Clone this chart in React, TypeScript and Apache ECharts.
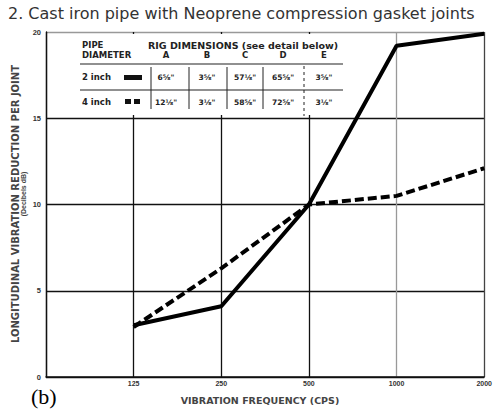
import React, { useEffect, useRef } from "react";
import * as echarts from "echarts";

const frequencies = ["", "125", "250", "500", "1000", "2000"];
const pipe2inch = [null, 3.0, 4.1, 10, 19.2, 19.9];
const pipe4inch = [null, 2.9, 6.3, 10, 10.5, 12.1];

const titleText = "2. Cast iron pipe with Neoprene compression gasket joints";
const yName1 = "LONGITUDINAL VIBRATION REDUCTION PER JOINT";
const yName2 = "(Decibels dB)";
const xName = "VIBRATION FREQUENCY (CPS)";

const tableCols = ["A", "B", "C", "D", "E"];
const tableRowNames = ["2 inch", "4 inch"];
const row2inch = ["6\u215D\"", "3\u215D\"", "57\u215B\"", "65\u215D\"", "3\u215D\""];
const row4inch = ["12\u215B\"", "3\u215B\"", "58\u215D\"", "72\u215D\"", "3\u215B\""];

export default function App() {
  const ref = useRef<HTMLDivElement>(null);
  useEffect(() => {
    if (!ref.current) return;
    const chart = echarts.init(ref.current, null, { renderer: "svg" });
    const F = "'Liberation Sans', Arial, sans-serif";
    const D = "'DejaVu Sans', sans-serif";
    const txt = (text: string, x: number, y: number, font: string, align = "left", fill = "#222", extra: any = {}) => ({
      type: "text",
      x,
      y,
      z: 3,
      ...extra,
      style: {
        text,
        font,
        fill,
        textAlign: align,
        align,
        textVerticalAlign: "middle",
        verticalAlign: "middle",
      },
    });
    const tf = `bold 8.5px ${D}`;
    const vf = `bold 7.5px ${D}`;
    const colX = [166, 207, 245, 283, 324];
    const sepX = [151, 189, 227, 263];
    const graphics: any[] = [
      // table background
      { type: "rect", z: 1, shape: { x: 48, y: 34, width: 298, height: 81 }, style: { fill: "#fff" } },
      txt("PIPE", 82, 45, tf),
      txt("DIAMETER", 82, 55, tf),
      txt("RIG DIMENSIONS (see detail below)", 148, 45, `bold 9.5px ${D}`),
      ...tableCols.map((c, i) => txt(c, colX[i], 55, tf, "center")),
      { type: "line", z: 3, shape: { x1: 80, y1: 64, x2: 343, y2: 64 }, style: { stroke: "#222", lineWidth: 1.2 } },
      { type: "line", z: 3, shape: { x1: 80, y1: 90, x2: 343, y2: 90 }, style: { stroke: "#222", lineWidth: 1.2 } },
      ...sepX.map((x) => ({ type: "line", z: 3, shape: { x1: x, y1: 67, x2: x, y2: 109 }, style: { stroke: "#222", lineWidth: 1 } })),
      { type: "line", z: 3, shape: { x1: 304, y1: 66, x2: 304, y2: 116 }, style: { stroke: "#222", lineWidth: 1, lineDash: [3, 3] } },
      txt(tableRowNames[0], 82, 77, tf),
      txt(tableRowNames[1], 82, 102, tf),
      { type: "rect", z: 3, shape: { x: 124, y: 75, width: 18, height: 5 }, style: { fill: "#111" } },
      { type: "rect", z: 3, shape: { x: 125, y: 99, width: 6, height: 5 }, style: { fill: "#111" } },
      { type: "rect", z: 3, shape: { x: 134, y: 99, width: 6, height: 5 }, style: { fill: "#111" } },
      ...row2inch.map((v, i) => txt(v, colX[i], 77, vf, "center")),
      ...row4inch.map((v, i) => txt(v, colX[i], 102, vf, "center")),
      // title
      txt(titleText, 8, 13, `16px ${D}`, "left", "#333"),
      // y axis name
      txt(yName1, 15, 204, `bold 10px ${D}`, "center", "#444", { rotation: Math.PI / 2 }),
      txt(yName2, 23, 194, `bold 7px ${F}`, "center", "#444", { rotation: Math.PI / 2 }),
      // x axis name
      txt(xName, 260, 400, `bold 9.5px ${D}`, "center", "#444"),
      // (b)
      txt("(b)", 31, 396, `22px 'Liberation Serif', 'Times New Roman', serif`, "left", "#000"),
    ];

    chart.setOption({
      animation: false,
      backgroundColor: "#fff",
      grid: { left: 46, right: 8, top: 32, bottom: 33, containLabel: false },
      xAxis: {
        type: "category",
        data: frequencies,
        boundaryGap: false,
        axisLine: { lineStyle: { color: "#111", width: 1.5 } },
        axisTick: { show: false },
        axisLabel: { interval: 0, fontSize: 7, fontWeight: "bold", color: "#333", margin: 3, fontFamily: F },
        splitLine: { show: true, lineStyle: { color: ["#111", "#111", "#111", "#111", "#999", "#444"], width: 1.3 } },
      },
      yAxis: {
        type: "value",
        min: 0,
        max: 20,
        interval: 5,
        axisLine: { show: true, lineStyle: { color: "#111", width: 1.3 } },
        axisTick: { show: false },
        axisLabel: { fontSize: 7.5, fontWeight: "bold", color: "#333", margin: 5, fontFamily: F },
        splitLine: { show: true, lineStyle: { color: ["#111", "#111", "#111", "#111", "#999"], width: 1.3 } },
      },
      series: [
        {
          name: "2 inch",
          type: "line",
          data: pipe2inch,
          symbol: "none",
          z: 4,
          lineStyle: { color: "#000", width: 4 },
        },
        {
          name: "4 inch",
          type: "line",
          data: pipe4inch,
          symbol: "none",
          z: 4,
          lineStyle: { color: "#000", width: 4, type: [9, 4] },
        },
      ],
      graphic: graphics,
    });
    return () => chart.dispose();
  }, []);
  return <div ref={ref} style={{ position: "fixed", left: 0, top: 0, width: 495, height: 410 }} />;
}
